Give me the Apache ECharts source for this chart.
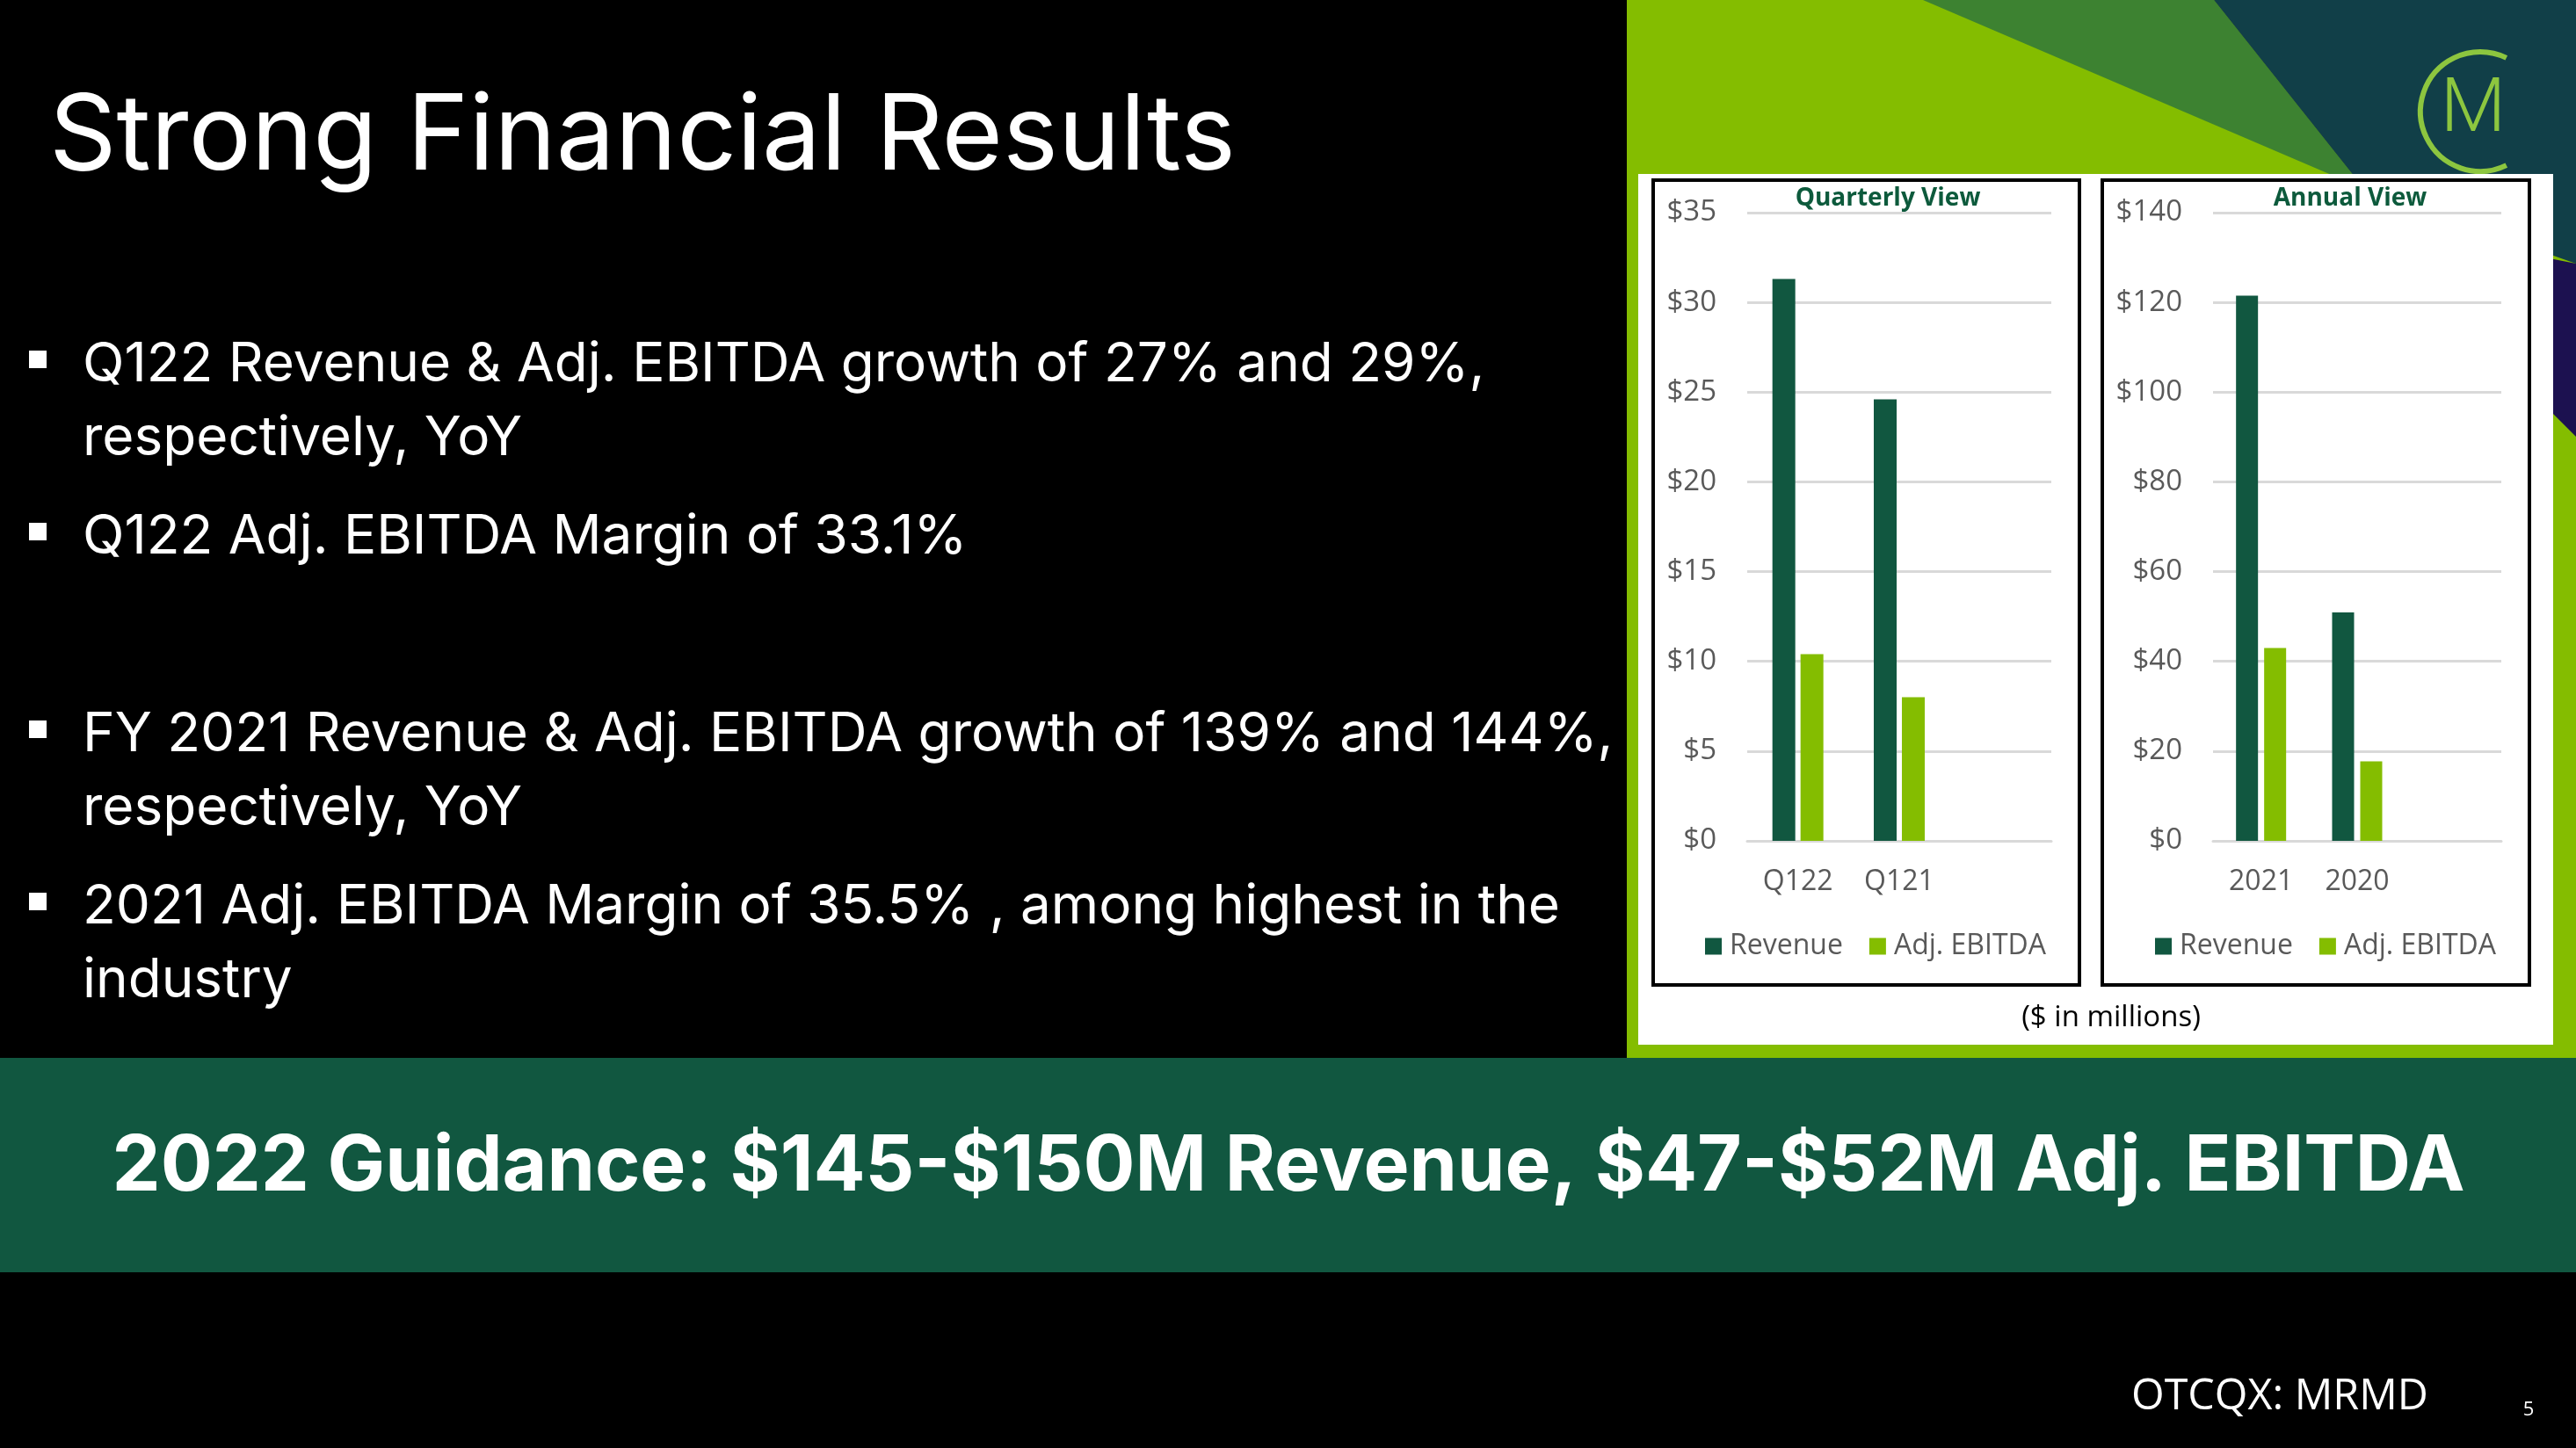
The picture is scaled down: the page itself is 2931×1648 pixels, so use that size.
<!DOCTYPE html>
<html>
<head>
<meta charset="utf-8">
<script src="https://cdn.jsdelivr.net/npm/echarts@6/dist/echarts.min.js"></script>
<style>
html,body{margin:0;padding:0;background:#000;}
#c{width:2931px;height:1648px;}
</style>
</head>
<body>
<div id="c"></div>
<script>
// ---- data ----
const quarterCategories = ['Q122', 'Q121', ''];
const quarterRevenue = [31.3, 24.6, null];
const quarterEbitda = [10.4, 8.0, null];
const annualCategories = ['2021', '2020', ''];
const annualRevenue = [121.5, 50.9, null];
const annualEbitda = [43.0, 17.7, null];
const quarterTicks = { min: 0, max: 35, interval: 5 };
const annualTicks = { min: 0, max: 140, interval: 20 };
const seriesNames = ['Revenue', 'Adj. EBITDA'];

const titleText = 'Strong Financial Results';
const bulletLines = [
  { text: 'Q122 Revenue & Adj. EBITDA growth of 27% and 29%,', bullet: true, y: 415 },
  { text: 'respectively, YoY', bullet: false, y: 499 },
  { text: 'Q122 Adj. EBITDA Margin of 33.1%', bullet: true, y: 611 },
  { text: 'FY 2021 Revenue & Adj. EBITDA growth of 139% and 144%,', bullet: true, y: 836 },
  { text: 'respectively, YoY', bullet: false, y: 920 },
  { text: '2021 Adj. EBITDA Margin of 35.5% , among highest in the', bullet: true, y: 1032 },
  { text: 'industry', bullet: false, y: 1116 }
];
const guidanceText = '2022 Guidance: $145-$150M Revenue, $47-$52M Adj. EBITDA';

// ---- styling ----
const DARK = '#115740';
const LIME = '#84bd00';
const GRAY = '#595959';
const GRID = '#d9d9d9';
const chartFont = "'Open Sans', 'Noto Sans', sans-serif";
const slideFont = "Inter, 'Open Sans', sans-serif";

const mctx = document.createElement('canvas').getContext('2d');
function fit(text, weight, family, target) {
  mctx.font = weight + ' 100px ' + family;
  return 100 * target / mctx.measureText(text).width;
}
const titleSize = fit(titleText, 400, slideFont, 1350);
const bulletSize = fit(bulletLines[3].text, 400, slideFont, 1742);
const guidanceSize = fit(guidanceText, 700, slideFont, 2677);
const otcSize = fit('OTCQX: MRMD', 400, chartFont, 338);

const chart = echarts.init(document.getElementById('c'), null, { renderer: 'canvas' });

const graphics = [
  { type: 'rect', z: -10, shape: { x: 1851, y: 0, width: 1080, height: 1204 }, style: { fill: LIME } },
  { type: 'polygon', z: -9, shape: { points: [[2188, 0], [2519, 0], [2690, 215]] }, style: { fill: '#3d8231' } },
  { type: 'polygon', z: -9, shape: { points: [[2519, 0], [2931, 0], [2931, 300], [2690, 215]] }, style: { fill: '#113f48' } },
  { type: 'polygon', z: -9, shape: { points: [[2870, 288], [2931, 300], [2931, 497], [2870, 436]] }, style: { fill: '#1c1150' } },
  { type: 'arc', z: -8, shape: { cx: 2822, cy: 127, r: 68, startAngle: 64 * Math.PI / 180, endAngle: 296 * Math.PI / 180, clockwise: true },
    style: { stroke: '#8dc63f', lineWidth: 6, fill: null } },
  { type: 'text', z: -8, x: 2814, y: 127, style: { text: 'M', fill: '#8dc63f', fontSize: 86, fontWeight: 300, fontFamily: "Roboto, 'Open Sans', sans-serif", align: 'center', verticalAlign: 'middle' } },
  { type: 'rect', z: -7, shape: { x: 1864, y: 198, width: 1041, height: 991 }, style: { fill: '#ffffff' } },
  { type: 'rect', z: 5, shape: { x: 1881, y: 205, width: 485, height: 916 }, style: { fill: null, stroke: '#000', lineWidth: 4 } },
  { type: 'rect', z: 5, shape: { x: 2392, y: 205, width: 486, height: 916 }, style: { fill: null, stroke: '#000', lineWidth: 4 } },
  { type: 'text', z: 5, x: 2148, y: 226, style: { text: 'Quarterly View', fill: '#0d5a3c', fontSize: 28, fontWeight: 'bold', fontFamily: chartFont, align: 'center', verticalAlign: 'middle' } },
  { type: 'text', z: 5, x: 2674, y: 226, style: { text: 'Annual View', fill: '#0d5a3c', fontSize: 28, fontWeight: 'bold', fontFamily: chartFont, align: 'center', verticalAlign: 'middle' } },
  { type: 'text', z: 5, x: 2402, y: 1159, style: { text: '($ in millions)', fill: '#000', fontSize: 33, fontFamily: chartFont, align: 'center', verticalAlign: 'middle' } },
  { type: 'rect', z: -10, shape: { x: 0, y: 1204, width: 2931, height: 244 }, style: { fill: DARK } },
  { type: 'text', z: 5, x: 1466, y: 1329, style: { text: guidanceText, fill: '#fff', fontSize: guidanceSize, fontWeight: 700, fontFamily: slideFont, align: 'center', verticalAlign: 'middle' } },
  { type: 'text', z: 5, x: 56, y: 157, style: { text: titleText, fill: '#fff', fontSize: titleSize, fontWeight: 400, fontFamily: slideFont, align: 'left', verticalAlign: 'middle' } },
  { type: 'text', z: 5, x: 2425, y: 1590, style: { text: 'OTCQX: MRMD', fill: '#fff', fontSize: otcSize, fontFamily: chartFont, align: 'left', verticalAlign: 'middle' } },
  { type: 'text', z: 5, x: 2877, y: 1605, style: { text: '5', fill: '#fff', fontSize: 22, fontFamily: chartFont, align: 'center', verticalAlign: 'middle' } }
];
bulletLines.forEach(function (l) {
  graphics.push({ type: 'text', z: 5, x: 94, y: l.y, style: { text: l.text, fill: '#fff', fontSize: bulletSize, fontWeight: 400, fontFamily: slideFont, align: 'left', verticalAlign: 'middle' } });
  if (l.bullet) {
    graphics.push({ type: 'rect', z: 5, shape: { x: 33, y: l.y - 16, width: 20, height: 20 }, style: { fill: '#fff' } });
  }
});

function yAxis(idx, ticks) {
  return {
    type: 'value', gridIndex: idx, min: ticks.min, max: ticks.max, interval: ticks.interval,
    axisLine: { show: false }, axisTick: { show: false },
    splitLine: { lineStyle: { color: GRID, width: 3 } },
    axisLabel: { color: GRAY, fontSize: 33, fontFamily: chartFont, margin: 35, formatter: function (v) { return '$' + v; } }
  };
}
function xAxis(idx, cats) {
  return {
    type: 'category', gridIndex: idx, data: cats,
    axisLine: { lineStyle: { color: GRID, width: 3 } }, axisTick: { show: false },
    axisLabel: { color: GRAY, fontSize: 32, fontFamily: chartFont, margin: 31 }
  };
}
function legend(left) {
  return {
    left: left, top: 1056, itemWidth: 19, itemHeight: 19, itemGap: 30, icon: 'rect', selectedMode: false,
    data: seriesNames,
    textStyle: { color: GRAY, fontSize: 32, fontFamily: chartFont, padding: [0, 0, 0, 4] }
  };
}

chart.setOption({
  backgroundColor: '#000000',
  animation: false,
  graphic: graphics,
  grid: [
    { left: 1988, top: 242, width: 346, height: 715 },
    { left: 2518, top: 242, width: 328, height: 715 }
  ],
  xAxis: [xAxis(0, quarterCategories), xAxis(1, annualCategories)],
  yAxis: [yAxis(0, quarterTicks), yAxis(1, annualTicks)],
  legend: [legend(1935), legend(2447)],
  series: [
    { name: seriesNames[0], type: 'bar', xAxisIndex: 0, yAxisIndex: 0, data: quarterRevenue, barWidth: 26, barGap: '23%', itemStyle: { color: DARK } },
    { name: seriesNames[1], type: 'bar', xAxisIndex: 0, yAxisIndex: 0, data: quarterEbitda, barWidth: 26, barGap: '23%', itemStyle: { color: LIME } },
    { name: seriesNames[0], type: 'bar', xAxisIndex: 1, yAxisIndex: 1, data: annualRevenue, barWidth: 25, barGap: '28%', itemStyle: { color: DARK } },
    { name: seriesNames[1], type: 'bar', xAxisIndex: 1, yAxisIndex: 1, data: annualEbitda, barWidth: 25, barGap: '28%', itemStyle: { color: LIME } }
  ]
});
</script>
</body>
</html>
